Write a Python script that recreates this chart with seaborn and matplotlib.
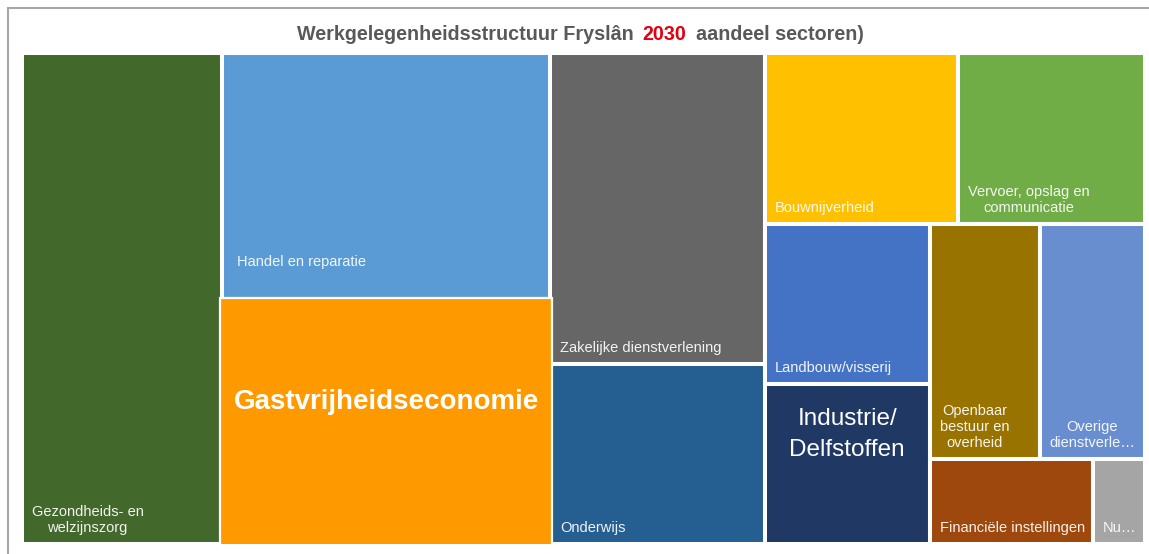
import matplotlib
matplotlib.use("Agg")
import matplotlib.pyplot as plt
import matplotlib.patches as mpatches
import seaborn as sns

# Sector shares (%)
sectors = [
    "Gezondheids- en\nwelzijnszorg",
    "Handel en reparatie",
    "Gastvrijheidseconomie",
    "Zakelijke dienstverlening",
    "Onderwijs",
    "Bouwnijverheid",
    "Vervoer, opslag en\ncommunicatie",
    "Landbouw/visserij",
    "Industrie/\nDelfstoffen",
    "Openbaar\nbestuur en\noverheid",
    "Overige\ndienstverle…",
    "Financiële instellingen",
    "Nu…",
]
shares = [17.8, 14.7, 14.6, 12.1, 7.0, 6.0, 5.8, 4.8, 4.8, 4.7, 4.5, 2.5, 0.8]
colors = ["#43682B", "#5B9BD5", "#FF9900", "#666666", "#255E91", "#FFC000",
          "#70AD47", "#4472C4", "#1F3864", "#997300", "#698ED0", "#9E480E",
          "#A5A5A5"]
# how many cells go in each strip of the treemap (Excel-style slicing)
strip_sizes = [1, 2, 2, 2, 2, 2, 1, 1]

title_parts = [("Werkgelegenheidsstructuur Fryslân", "#595959"),
               ("2030", "#E3000F"),
               ("aandeel sectoren)", "#595959")]


def treemap(values, groups, W, H):
    """Slice-and-dice by strips: each strip goes along the shorter side."""
    scale = W * H / sum(values)
    x0, y0, w, h = 0.0, 0.0, W, H
    rects = []
    i = 0
    for n in groups:
        vals = values[i:i + n]
        area = sum(vals) * scale
        if w >= h:
            sw = area / h
            yy = y0
            for v in vals:
                hh = v * scale / sw
                rects.append((x0, yy, sw, hh))
                yy += hh
            x0 += sw
            w -= sw
        else:
            sh = area / w
            xx = x0
            for v in vals:
                ww = v * scale / sh
                rects.append((xx, y0, ww, sh))
                xx += ww
            y0 += sh
            h -= sh
        i += n
    return rects


sns.set_theme(style="white")
plt.rcParams['font.family'] = ['Liberation Sans', 'DejaVu Sans']

FW, FH = 1149, 554
fig = plt.figure(figsize=(FW / 100, FH / 100), dpi=100)
fig.patch.set_facecolor("white")

# outer frame (cropped on the right and bottom)
frame = mpatches.Rectangle((8 / FW, -0.1), 1.2, 1.1 - 8 / FH, transform=fig.transFigure,
                           fill=False, edgecolor="#A6A6A6", linewidth=1.5, clip_on=False)
fig.patches.append(frame)

ax = fig.add_axes([22 / FW, 10 / FH, 1123 / FW, 491 / FH])
W = ax.get_position().width * fig.get_figwidth()
H = ax.get_position().height * fig.get_figheight()
ax.set_xlim(0, W)
ax.set_ylim(H, 0)
ax.axis("off")

rects = treemap(shares, strip_sizes, W, H)

label_pad = {"Handel en reparatie": (11, 22)}
grow = 0.015  # highlighted cell sticks out a little (inches)

for (x, y, w, h), name, col in zip(rects, sectors, colors):
    if name == "Gastvrijheidseconomie":
        ax.add_patch(mpatches.Rectangle((x - grow, y - grow), w + 2 * grow, h + 2 * grow,
                                        facecolor=col, edgecolor="white",
                                        linewidth=1.6, zorder=3))
        ax.text(x + w / 2, y + 0.42 * h, name, ha="center", va="center", color="white",
                fontsize=20, fontweight="bold", zorder=4)
        continue
    ax.add_patch(mpatches.Rectangle((x, y), w, h, facecolor=col, edgecolor="white",
                                    linewidth=2.9, zorder=2))
    if name.startswith("Industrie"):
        ax.text(x + w / 2, y + 0.315 * h, name, ha="center", va="center", color="white",
                fontsize=17.5, linespacing=1.5, multialignment="center", zorder=4)
        continue
    dx, dy = label_pad.get(name, (7, 6.5))
    ax.annotate(name, xy=(x, y + h), xytext=(dx, dy), textcoords="offset points",
                ha="left", va="bottom", multialignment="center", color="white",
                alpha=0.92, fontsize=10.5, zorder=4)

# title in three coloured pieces
fig.canvas.draw()
renderer = fig.canvas.get_renderer()
tx = 297 / FW
ty = 1 - 40 / FH
space = 9
for txt, col in title_parts:
    t = fig.text(tx, ty, txt, color=col, fontsize=14.2, fontweight="bold",
                 ha="left", va="baseline")
    bb = t.get_window_extent(renderer=renderer)
    tx = (bb.x1 + space) / fig.bbox.width

fig.savefig("out.png", dpi=100, facecolor="white")
